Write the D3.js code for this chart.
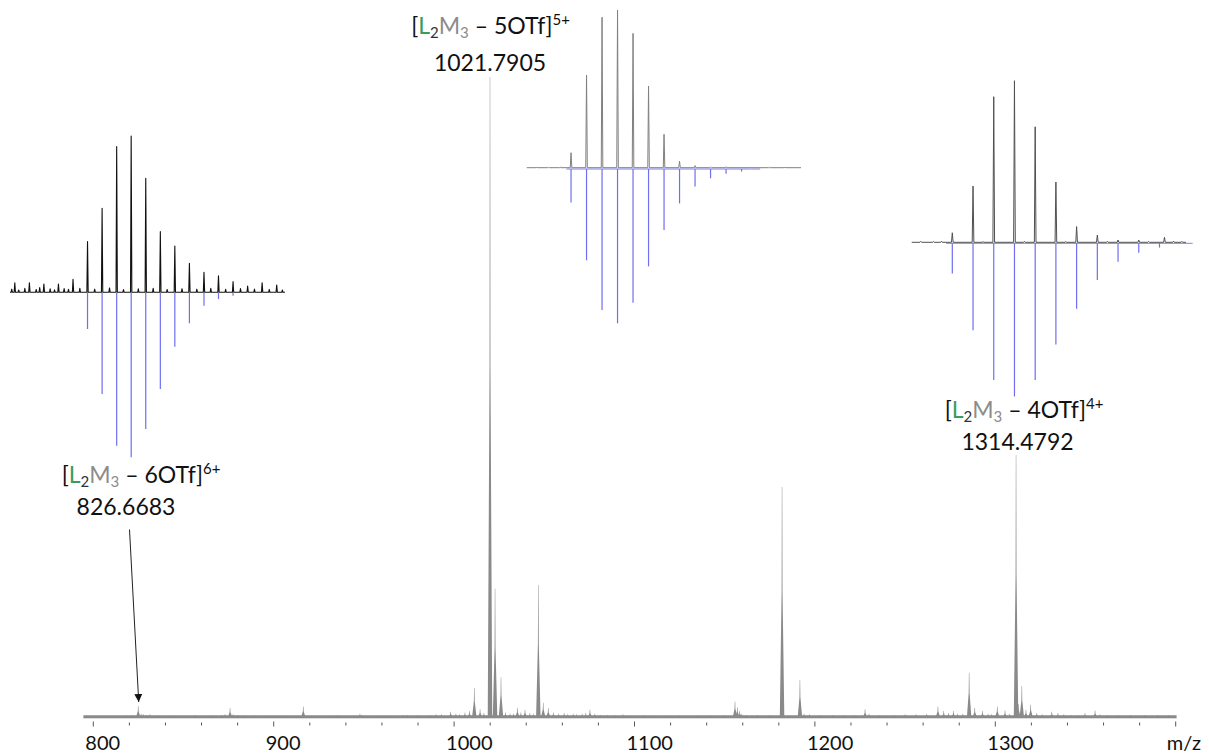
<!DOCTYPE html>
<html><head><meta charset="utf-8">
<script src="https://cdn.jsdelivr.net/npm/d3@7"></script>
<style>body{margin:0;background:#fff} svg{display:block;font-family:Lato,"Open Sans",sans-serif}</style>
</head><body><svg id="c" width="1209" height="753"></svg>
<script>
// ---------------- DATA ----------------
// main spectrum peaks (m/z, relative intensity %)
const peakMz = [818.5,821.0,824.9,826.5,827.7,829.5,831.4,836,845,856.4,866,871,873,875.8,877.5,880,884,890,899,905,
  916.4,921,935,947.8,949,958,965,972,974,980,987,990,993,998.1,1001,1003,1006.0,1008.5,1011.2,1014.4,1016.5,
  1019.9,1022.7,1026.0,1028.5,1031,1033,1035.1,1037,1039.3,1042,1044,1046.7,1049.4,1052.2,1055,1058,1061,1063,
  1066,1068,1071,1073,1075.3,1078,1081,1085,1089,1093.6,1098,1105,1110,1118,1125,1135,1142,1150,1155.7,1157.0,
  1158.3,1159.5,1162,1168,1175,1181.8,1191.7,1194,1197,1203,1210,1216,1222,1227.8,1230,1236,1244,1250,1256,1262,
  1268.2,1271.4,1274,1276.8,1279,1282,1285.5,1288.6,1292.9,1296,1298,1301.1,1305.4,1308,1311.5,1312.8,1314.7,
  1317,1319.6,1323,1326,1331.3,1334.7,1338,1342,1346,1349.7,1355.3,1358,1362,1368,1375,1383,1390,1396];
const peakInt = [0.3,0.4,1.8,0.6,0.5,0.4,0.5,0.3,0.3,0.4,0.3,0.4,0.5,1.5,0.5,0.4,0.3,0.3,0.3,0.3,
  1.7,0.3,0.3,0.6,0.4,0.3,0.3,0.4,0.4,0.4,0.4,0.5,0.5,0.9,0.6,0.5,0.8,1.0,4.6,1.3,0.7,
  100,20.1,6.3,0.8,0.6,0.6,1.5,0.8,1.2,0.7,0.6,20.7,2.3,1.5,0.8,0.6,0.7,0.5,
  0.6,0.5,0.6,0.7,1.2,0.6,0.4,0.4,0.4,0.5,0.3,0.4,0.3,0.3,0.3,0.3,0.3,0.4,2.5,1.6,
  1.0,0.6,0.4,0.4,0.4,36.0,5.9,0.6,0.5,0.4,0.4,0.4,0.4,1.3,0.6,0.4,0.4,0.5,0.5,0.6,
  1.7,1.0,0.7,1.0,0.6,0.6,7.0,1.5,1.0,0.6,0.5,1.7,1.1,0.6,41.0,2.1,4.9,
  1.2,2.0,0.7,0.5,0.9,0.7,0.5,0.4,0.4,0.7,1.1,0.5,0.4,0.4,0.4,0.4,0.4,0.4];
const axisRange = [794.5, 1400.5];
const tickLabels = [800, 900, 1000, 1100, 1200, 1300];
const axisTitle = "m/z";

// inset [L2M3 - 6OTf]6+
const iso6ExpMz  = [825.335,825.502,825.668,825.835,826.002,826.168,826.335,826.502,826.668,826.835,827.002,827.168,827.335,827.502,827.668,827.835,828.002,828.168,828.335];
const iso6ExpInt = [6.1,6.1,5.3,5.3,8.3,32.4,53.7,93.2,100,72.9,38.8,29.6,18.6,12.8,10.6,6.8,4.0,6.1,4.7];
const iso6NoiseMz  = [825.30,825.38,825.45,825.58,825.62,825.74,825.79,825.90,825.95,826.08,826.25,826.42,826.58,826.75,826.92,827.08,827.25,827.42,827.58,827.75,827.92,828.08,828.25,828.40];
const iso6NoiseInt = [2.0,1.5,2.5,1.8,3.0,2.2,1.6,2.4,1.9,2.6,2.0,2.8,1.7,2.2,2.5,1.8,2.3,2.0,2.6,1.9,2.4,2.1,1.8,1.5];
const iso6SimMz  = [826.168,826.335,826.502,826.668,826.835,827.002,827.168,827.335,827.502,827.668,827.835];
const iso6SimInt = [21.9,61.5,92.9,100,82.8,58.4,32.7,18.4,7.7,3.7,1.6];

// inset [L2M3 - 5OTf]5+
const iso5ExpMz  = [1021.19,1021.39,1021.59,1021.79,1021.99,1022.19,1022.39,1022.59,1022.79,1022.99,1023.19];
const iso5ExpInt = [9.5,58.8,95.4,100,85.2,51.8,21.2,4.1,1.3,0.4,0.6];
const iso5NoiseMz  = [1020.75,1020.9,1021.05,1023.5,1023.75,1023.95];
const iso5NoiseInt = [0.4,0.5,0.4,0.4,0.3,0.4];
const iso5SimMz  = [1021.19,1021.39,1021.59,1021.79,1021.99,1022.19,1022.39,1022.59,1022.79,1022.99,1023.19,1023.39];
const iso5SimInt = [21.7,59.2,91.4,100,86.7,63.1,39.5,22.3,11.4,6.0,3.0,1.7];

// inset [L2M3 - 4OTf]4+
const iso4ExpMz  = [1313.73,1313.98,1314.23,1314.48,1314.73,1314.98,1315.23,1315.48,1315.73,1315.98,1316.29];
const iso4ExpInt = [5.9,34.8,90.1,100,71.5,37.3,9.7,4.5,1.4,1.4,3.1];
const iso4NoiseMz  = [1313.35,1313.5,1313.6,1314.1,1314.6,1315.1,1315.6,1316.1,1316.4,1316.5];
const iso4NoiseInt = [0.6,0.5,0.7,0.5,0.6,0.5,0.6,0.5,0.7,0.6];
const iso4SimMz  = [1313.73,1313.98,1314.23,1314.48,1314.73,1314.98,1315.23,1315.48,1315.73,1315.98,1316.23];
const iso4SimInt = [19.7,56.8,89.2,100,89.2,66.1,42.7,24.0,12.1,6.1,2.8];

// ---------------- DRAW ----------------
const svg = d3.select("#c");
const x = d3.scaleLinear().domain([800, 1300]).range([93.3, 995.3]);
const y = d3.scaleLinear().domain([0, 100]).range([717.5, 77]);
const gray = "#8a8a8a";

// baseline noise band
svg.append("rect")
  .attr("x", x(axisRange[0])).attr("width", x(axisRange[1]) - x(axisRange[0]))
  .attr("y", y(0.35)).attr("height", y(0) - y(0.35) + 0.8)
  .attr("fill", gray);

// peaks
const hw = 1.25;
svg.append("g").selectAll("path").data(d3.zip(peakMz, peakInt)).join("path")
  .attr("d", d => `M${x(d[0]-hw)},${y(0)}L${x(d[0]-0.25)},${y(d[1]*0.55)}L${x(d[0]-0.12)},${y(d[1])}L${x(d[0]+0.12)},${y(d[1])}L${x(d[0]+0.25)},${y(d[1]*0.55)}L${x(d[0]+hw)},${y(0)}Z`)
  .attr("fill", gray);

// axis ticks
const ticks = d3.range(800, 1401, 20);
svg.append("g").selectAll("line").data(ticks).join("line")
  .attr("x1", d => x(d)).attr("x2", d => x(d))
  .attr("y1", d => d % 100 === 0 ? 721.5 : 722.5)
  .attr("y2", d => d % 100 === 0 ? 726.5 : 725.5)
  .attr("stroke", "#555").attr("stroke-width", 1);

svg.append("g").selectAll("text").data(tickLabels).join("text")
  .attr("x", d => x(d) - 8).attr("y", 750)
  .attr("font-size", 20).attr("fill", "#111")
  .text(d => d);
svg.append("text").attr("x", x(1400) - 9).attr("y", 750)
  .attr("font-size", 20).attr("fill", "#111").text(axisTitle);

// ---------------- INSETS ----------------
function inset(cfg) {
  const xs = d3.scaleLinear().domain(cfg.dom).range(cfg.rng);
  const ye = d3.scaleLinear().domain([0, 100]).range([cfg.base, cfg.base - cfg.expH]);
  const ysim = d3.scaleLinear().domain([0, 100]).range([cfg.simBase, cfg.simBase + cfg.simH]);
  const g = svg.append("g");
  if (cfg.simLine) {
    g.append("line")
      .attr("x1", xs(cfg.simMz[0] - cfg.step * 0.3)).attr("x2", xs(cfg.simMz[cfg.simMz.length - 1] + cfg.step * cfg.simTail))
      .attr("y1", cfg.simBase).attr("y2", cfg.simBase)
      .attr("stroke", "#8080f2").attr("stroke-width", 1);
  }
  g.selectAll(".sim").data(d3.zip(cfg.simMz, cfg.simInt)).join("line")
    .attr("x1", d => xs(d[0])).attr("x2", d => xs(d[0]))
    .attr("y1", cfg.simBase).attr("y2", d => ysim(d[1]))
    .attr("stroke", "#6f6ff0").attr("stroke-width", 1.2);
  const pts = d3.zip(cfg.expMz.concat(cfg.noiseMz), cfg.expInt.concat(cfg.noiseInt)).sort((a, b) => a[0] - b[0]);
  const w = cfg.step * cfg.pw;
  let dpath = `M${cfg.rng[0]},${ye(0)}`;
  pts.forEach(p => {
    dpath += `L${xs(p[0] - w)},${ye(0)}L${xs(p[0])},${ye(p[1])}L${xs(p[0] + w)},${ye(0)}`;
  });
  dpath += `L${cfg.rng[1]},${ye(0)}`;
  g.append("path").attr("d", dpath).attr("fill", "none")
    .attr("stroke", cfg.color).attr("stroke-width", cfg.sw).attr("stroke-linejoin", "round");
}

inset({dom: [825.28, 828.43], rng: [10, 285], base: 292.3, expH: 156.3, simBase: 293, simH: 164.3, pw: 0.045,
  step: 1 / 6, expMz: iso6ExpMz, expInt: iso6ExpInt, noiseMz: iso6NoiseMz, noiseInt: iso6NoiseInt,
  simMz: iso6SimMz, simInt: iso6SimInt, color: "#111", sw: 1.1, simLine: false, simTail: 0});
inset({dom: [1020.618, 1024.157], rng: [526.7, 801], base: 167.7, expH: 157.7, simBase: 169, simH: 154.3, pw: 0.05,
  step: 0.2, expMz: iso5ExpMz, expInt: iso5ExpInt, noiseMz: iso5NoiseMz, noiseInt: iso5NoiseInt,
  simMz: iso5SimMz, simInt: iso5SimInt, color: "#808080", sw: 1, simLine: true, simTail: 1.2});
inset({dom: [1313.24, 1316.55], rng: [911.7, 1186], base: 242.3, expH: 161.6, simBase: 243.3, simH: 153.2, pw: 0.04,
  step: 0.25, expMz: iso4ExpMz, expInt: iso4ExpInt, noiseMz: iso4NoiseMz, noiseInt: iso4NoiseInt,
  simMz: iso4SimMz, simInt: iso4SimInt, color: "#505050", sw: 1, simLine: true, simTail: 1.6});

// ---------------- LABELS ----------------
function formula(cx, cy, n) {
  const t = svg.append("text").attr("x", cx).attr("y", cy).attr("text-anchor", "middle")
    .attr("font-size", 23).attr("fill", "#111");
  t.append("tspan").text("[");
  t.append("tspan").attr("fill", "#3a9b5c").text("L");
  t.append("tspan").attr("font-size", 15).attr("baseline-shift", -4).attr("fill", "#333").text("2");
  t.append("tspan").attr("fill", "#8c8c8c").text("M");
  t.append("tspan").attr("font-size", 15).attr("baseline-shift", -4).attr("fill", "#8c8c8c").text("3");
  t.append("tspan").text(" \u2013 " + n + "OTf]");
  t.append("tspan").attr("font-size", 15).attr("baseline-shift", 9).text(n + "+");
}
function mass(cx, cy, s) {
  svg.append("text").attr("x", cx).attr("y", cy).attr("text-anchor", "middle")
    .attr("font-size", 23).attr("fill", "#111").text(s);
}
formula(490.5, 33.5, 5); mass(490, 71, "1021.7905");
formula(1024, 417.5, 4); mass(1017.5, 449.5, "1314.4792");
formula(141, 483, 6); mass(126, 515, "826.6683");

// arrow
svg.append("defs").append("marker").attr("id", "ah").attr("viewBox", "0 0 10 10")
  .attr("refX", 10).attr("refY", 5).attr("markerWidth", 8).attr("markerHeight", 8)
  .attr("markerUnits", "userSpaceOnUse").attr("orient", "auto")
  .append("path").attr("d", "M0,0L10,5L0,10Z").attr("fill", "#111");
svg.append("line").attr("x1", 129.5).attr("y1", 529.5).attr("x2", x(824.9) + 0.5).attr("y2", 702)
  .attr("stroke", "#222").attr("stroke-width", 1).attr("marker-end", "url(#ah)");
</script></body></html>
